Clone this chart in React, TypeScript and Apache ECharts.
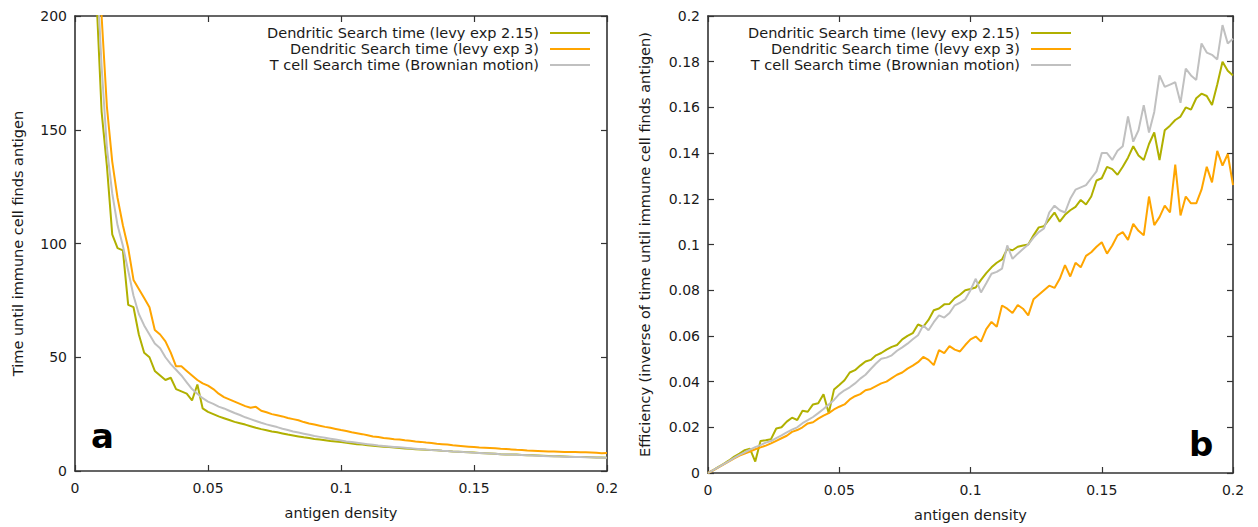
import { useEffect, useRef } from "react";
import * as echarts from "echarts";

// Antigen density grid shared by both panels
const DENSITY = [
  0, 0.002, 0.004, 0.006, 0.008, 0.01, 0.012, 0.014, 0.016, 0.018, 0.02,
  0.022, 0.024, 0.026, 0.028, 0.03, 0.032, 0.034, 0.036, 0.038, 0.04,
  0.042, 0.044, 0.046, 0.048, 0.05, 0.052, 0.054, 0.056, 0.058, 0.06,
  0.062, 0.064, 0.066, 0.068, 0.07, 0.072, 0.074, 0.076, 0.078, 0.08,
  0.082, 0.084, 0.086, 0.088, 0.09, 0.092, 0.094, 0.096, 0.098, 0.1,
  0.102, 0.104, 0.106, 0.108, 0.11, 0.112, 0.114, 0.116, 0.118, 0.12,
  0.122, 0.124, 0.126, 0.128, 0.13, 0.132, 0.134, 0.136, 0.138, 0.14,
  0.142, 0.144, 0.146, 0.148, 0.15, 0.152, 0.154, 0.156, 0.158, 0.16,
  0.162, 0.164, 0.166, 0.168, 0.17, 0.172, 0.174, 0.176, 0.178, 0.18,
  0.182, 0.184, 0.186, 0.188, 0.19, 0.192, 0.194, 0.196, 0.198, 0.2,
];

// Panel a: search time until antigen is found
const TIME_LEVY_215 = [
  null, 700, 380, 260, 210, 158, 134, 104, 98, 97, 73,
  72, 60, 52, 50, 44, 42, 40, 41, 36, 35,
  34, 31, 38, 27.5, 26, 25, 24, 23.2, 22.4, 21.6,
  21, 20.4, 19.7, 19, 18.4, 17.9, 17.4, 17, 16.5, 16,
  15.6, 15.2, 14.8, 14.5, 14.1, 13.8, 13.5, 13.2, 13, 12.7,
  12.4, 12.1, 11.8, 11.6, 11.3, 11.1, 10.9, 10.7, 10.5, 10.3,
  10.1, 9.9, 9.8, 9.6, 9.5, 9.3, 9.2, 9.1, 8.9, 8.8,
  8.6, 8.5, 8.3, 8.2, 8.1, 7.9, 7.8, 7.7, 7.6, 7.4,
  7.3, 7.2, 7.2, 7.0, 6.9, 6.9, 6.8, 6.7, 6.6, 6.5,
  6.5, 6.4, 6.3, 6.2, 6.2, 6.1, 6.0, 5.9, 5.9, 5.8,
];
const TIME_LEVY_3 = [
  null, 900, 480, 330, 250, 200, 160, 136, 120, 108, 98,
  84, 80, 76, 72, 62, 60, 57, 52, 46, 46,
  44, 42, 40, 38.5, 37.5, 36, 34, 32.5, 31.5, 30.5,
  29.5, 28.5, 27.8, 28.2, 26.5, 25.8, 25, 24.5, 24, 23.3,
  22.8, 22.3, 21.5, 20.9, 20.4, 19.9, 19.4, 19.0, 18.5, 18.0,
  17.6, 17.0, 16.6, 16.2, 15.7, 15.2, 14.9, 14.5, 14.3, 14.0,
  13.8, 13.5, 13.3, 13.0, 12.8, 12.5, 12.3, 12.0, 11.8, 11.6,
  11.3, 11.1, 10.9, 10.7, 10.5, 10.3, 10.2, 10.1, 10.0, 9.8,
  9.7, 9.5, 9.3, 9.2, 9.0, 8.9, 8.8, 8.7, 8.6, 8.6,
  8.5, 8.4, 8.4, 8.3, 8.2, 8.2, 8.1, 8.0, 7.8, 7.9,
];
const TIME_BROWNIAN = [
  null, 800, 420, 290, 225, 178, 142, 122, 108, 99, 88,
  77, 69, 64, 60, 56, 54, 50, 47, 44.5, 42,
  39, 36, 34, 32, 30.5, 29.5, 28.3, 27.5, 26.5, 25.5,
  24.6, 23.6, 22.8, 22, 21.2, 20.5, 19.9, 19.3, 18.6, 18,
  17.4, 16.9, 16.4, 15.9, 15.4, 15.0, 14.6, 14.2, 13.8, 13.4,
  13.0, 12.7, 12.4, 12.1, 11.8, 11.5, 11.2, 11.0, 10.8, 10.6,
  10.4, 10.2, 10.0, 9.8, 9.6, 9.4, 9.2, 9.1, 8.9, 8.8,
  8.6, 8.5, 8.3, 8.2, 8.0, 7.9, 7.8, 7.7, 7.6, 7.4,
  7.3, 7.2, 7.1, 7.0, 6.9, 6.8, 6.7, 6.6, 6.5, 6.5,
  6.4, 6.3, 6.2, 6.2, 6.1, 6.0, 6.0, 5.9, 5.8, 5.8,
];

// Panel b: efficiency (inverse of search time)
const EFF_LEVY_215 = [
  0, 0.0013, 0.0027, 0.004, 0.0055, 0.0072, 0.0085, 0.01, 0.0106, 0.005, 0.014,
  0.0143, 0.0148, 0.0195, 0.02, 0.0225, 0.0242, 0.0232, 0.0272, 0.0268, 0.03,
  0.0305, 0.0345, 0.0262, 0.0365, 0.0385, 0.0406, 0.044, 0.045, 0.047, 0.0488,
  0.0495, 0.0515, 0.0525, 0.054, 0.0552, 0.056, 0.0585, 0.06, 0.0612, 0.065,
  0.064, 0.067, 0.0712, 0.072, 0.0738, 0.074, 0.0765, 0.078, 0.08, 0.0805,
  0.0812, 0.0845, 0.0875, 0.09, 0.092, 0.0935, 0.098, 0.0975, 0.099, 0.0996,
  0.1, 0.104, 0.1075, 0.108, 0.111, 0.114, 0.11, 0.113, 0.115, 0.1165,
  0.1195, 0.1175, 0.121, 0.128, 0.129, 0.134, 0.133, 0.1305, 0.134, 0.138,
  0.143, 0.139, 0.137, 0.144, 0.149, 0.137, 0.15, 0.152, 0.1545, 0.156,
  0.16, 0.159, 0.164, 0.166, 0.165, 0.161, 0.17, 0.18, 0.176, 0.174,
];
const EFF_LEVY_3 = [
  0, 0.0012, 0.0025, 0.0038, 0.0051, 0.0064, 0.0076, 0.0085, 0.0094, 0.0104, 0.0112,
  0.012, 0.013, 0.0141, 0.0152, 0.0163, 0.018, 0.0188, 0.02, 0.0217, 0.0222,
  0.0238, 0.0251, 0.0262, 0.0278, 0.029, 0.03, 0.0322, 0.0336, 0.0345, 0.0362,
  0.0368, 0.038, 0.0392, 0.04, 0.0415, 0.043, 0.044, 0.0457, 0.047, 0.0485,
  0.0508, 0.0495, 0.0472, 0.0538, 0.0525, 0.0555, 0.054, 0.0532, 0.056, 0.0585,
  0.0597, 0.0575, 0.063, 0.0661, 0.064, 0.0733, 0.0719, 0.07, 0.0735, 0.0719,
  0.069, 0.076, 0.078, 0.08, 0.082, 0.081, 0.085, 0.091, 0.086, 0.092,
  0.09, 0.095, 0.0966, 0.099, 0.101, 0.096, 0.0996, 0.104, 0.1054, 0.102,
  0.109, 0.106, 0.104, 0.121, 0.1085, 0.112, 0.117, 0.114, 0.135, 0.1127,
  0.121, 0.118, 0.118, 0.124, 0.134, 0.1272, 0.141, 0.1345, 0.1396, 0.126,
];
const EFF_BROWNIAN = [
  0, 0.0013, 0.0026, 0.0039, 0.0052, 0.0066, 0.0079, 0.009, 0.0102, 0.0113, 0.0122,
  0.0133, 0.014, 0.0153, 0.0165, 0.0178, 0.019, 0.02, 0.0218, 0.0231, 0.0245,
  0.0262, 0.028, 0.03, 0.032, 0.0345, 0.0362, 0.0375, 0.0392, 0.0413, 0.043,
  0.0455, 0.0479, 0.05, 0.0505, 0.0515, 0.0535, 0.055, 0.0566, 0.0585, 0.0603,
  0.0646, 0.0625, 0.066, 0.069, 0.068, 0.07, 0.0734, 0.0745, 0.076, 0.08,
  0.085, 0.079, 0.083, 0.0872, 0.088, 0.0894, 0.0996, 0.0937, 0.096, 0.098,
  0.1, 0.103, 0.1054, 0.107, 0.114, 0.117, 0.115, 0.114, 0.12, 0.124,
  0.125, 0.126, 0.129, 0.132, 0.14, 0.14, 0.137, 0.141, 0.143, 0.156,
  0.145, 0.15, 0.161, 0.149, 0.158, 0.174, 0.169, 0.17, 0.171, 0.162,
  0.177, 0.174, 0.172, 0.188, 0.184, 0.183, 0.181, 0.196, 0.188, 0.19,
];

const SERIES_NAMES = [
  "Dendritic Search time (levy exp 2.15)",
  "Dendritic Search time (levy exp 3)",
  "T cell Search time (Brownian motion)",
];
const SERIES_COLORS = ["#b0b000", "#ffa500", "#c0c0c0"];

const X_TICKS = { min: 0, max: 0.2, interval: 0.05 };
const TIME_TICKS = { min: 0, max: 200, interval: 50 };
const EFF_TICKS = { min: 0, max: 0.2, interval: 0.02 };

const FONT = "DejaVu Sans";
const TEXT_COLOR = "#1a1a1a";
const FRAME_COLOR = "#333";

const pairs = (ys: (number | null)[]) => DENSITY.map((x, i) => [x, ys[i]]);

function axis(
  gridIndex: number,
  position: string,
  ticks: { min: number; max: number; interval: number },
  showLabels: boolean,
  labelMargin: number,
  name?: string,
  nameGap?: number
) {
  return {
    type: "value",
    gridIndex,
    position,
    ...ticks,
    axisLine: { show: true, onZero: false, lineStyle: { color: FRAME_COLOR, width: 1.6 } },
    axisTick: { show: true, inside: true, length: 6, lineStyle: { color: FRAME_COLOR, width: 1.2 } },
    axisLabel: {
      show: showLabels,
      margin: labelMargin,
      color: TEXT_COLOR,
      fontSize: 14,
      fontFamily: FONT,
    },
    splitLine: { show: false },
    name: name ?? "",
    nameLocation: "middle",
    nameGap: nameGap ?? 0,
    nameTextStyle: { color: TEXT_COLOR, fontSize: 14.5, fontFamily: FONT },
  };
}

function lineSeries(name: string, color: string, data: any[], xAxisIndex: number, yAxisIndex: number) {
  return {
    type: "line",
    name,
    data,
    xAxisIndex,
    yAxisIndex,
    symbol: "none",
    clip: true,
    connectNulls: false,
    lineStyle: { color, width: 2 },
    itemStyle: { color },
  };
}

function legend(right: number) {
  return {
    orient: "vertical",
    align: "right",
    right,
    top: 25,
    padding: 0,
    itemGap: 0,
    icon: "rect",
    itemWidth: 40,
    itemHeight: 2,
    selectedMode: false,
    data: SERIES_NAMES,
    textStyle: {
      color: TEXT_COLOR,
      fontSize: 14.5,
      fontFamily: FONT,
      lineHeight: 16,
      padding: [0, 6, 0, 0],
    },
  };
}

export default function App() {
  const ref = useRef<HTMLDivElement>(null);

  useEffect(() => {
    if (!ref.current) return;
    const chart = echarts.init(ref.current, null, { renderer: "svg" });
    const timeData = [TIME_LEVY_215, TIME_LEVY_3, TIME_BROWNIAN];
    const effData = [EFF_LEVY_215, EFF_LEVY_3, EFF_BROWNIAN];

    chart.setOption({
      animation: false,
      backgroundColor: "#fff",
      grid: [
        { left: 75, top: 16, width: 532, height: 455 },
        { left: 708, top: 16, width: 525, height: 457 },
      ],
      xAxis: [
        axis(0, "bottom", X_TICKS, true, 10, "antigen density", 34),
        axis(0, "top", X_TICKS, false, 0),
        axis(1, "bottom", X_TICKS, true, 10, "antigen density", 34),
        axis(1, "top", X_TICKS, false, 0),
      ],
      yAxis: [
        axis(0, "left", TIME_TICKS, true, 8, "Time until immune cell finds antigen", 50),
        axis(0, "right", TIME_TICKS, false, 0),
        axis(1, "left", EFF_TICKS, true, 8, "Efficiency (inverse of time until immune cell finds antigen)", 56),
        axis(1, "right", EFF_TICKS, false, 0),
      ],
      legend: [legend(1258 - 590), legend(1258 - 1071)],
      series: [
        ...SERIES_NAMES.map((n, i) => lineSeries(n, SERIES_COLORS[i], pairs(timeData[i]), 0, 0)),
        ...SERIES_NAMES.map((n, i) => lineSeries(n, SERIES_COLORS[i], pairs(effData[i]), 2, 2)),
      ],
      graphic: [
        {
          type: "text",
          x: 91,
          y: 436,
          style: { text: "a", font: `bold 34px "${FONT}"`, fill: "#000", verticalAlign: "middle" },
        },
        {
          type: "text",
          x: 1189,
          y: 444,
          style: { text: "b", font: `bold 34px "${FONT}"`, fill: "#000", verticalAlign: "middle" },
        },
      ],
    });

    return () => chart.dispose();
  }, []);

  return (
    <div
      ref={ref}
      style={{ position: "fixed", left: 0, top: 0, width: 1258, height: 527, background: "#fff" }}
    />
  );
}
